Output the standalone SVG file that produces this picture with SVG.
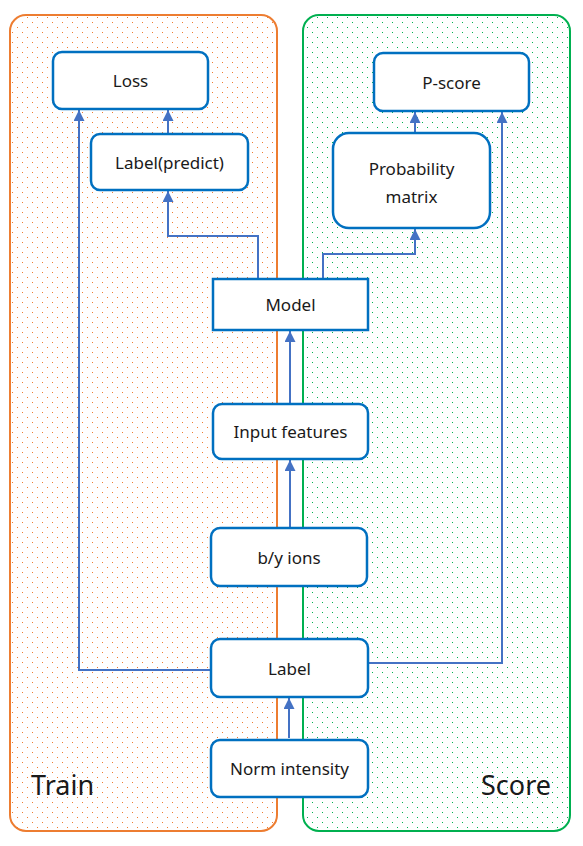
<svg xmlns="http://www.w3.org/2000/svg" width="583" height="846" viewBox="0 0 583 846">
<style>
.node{fill:#fff;stroke:#0070C0;stroke-width:2.5}
.t{font-family:"Noto Sans","Open Sans",sans-serif;font-size:17px;fill:#1a1a1a;text-anchor:middle;dominant-baseline:central}
.big{font-family:"Noto Sans","Open Sans",sans-serif;font-size:27px;fill:#1a1a1a}
.c{fill:none;stroke:#4472C4;stroke-width:2}
</style>
<defs>
<pattern id="po" width="10" height="10" patternUnits="userSpaceOnUse">
<rect x="2" y="2" width="1" height="1" fill="#ED7D31"/><rect x="7" y="7" width="1" height="1" fill="#ED7D31"/>
</pattern>
<pattern id="pg" width="10" height="10" patternUnits="userSpaceOnUse">
<rect x="2" y="2" width="1" height="1" fill="#00B050"/><rect x="7" y="7" width="1" height="1" fill="#00B050"/>
</pattern>
<marker id="ar" viewBox="0 0 10 10" refX="10" refY="5" markerWidth="5.5" markerHeight="5.5" orient="auto" markerUnits="strokeWidth">
<path d="M0,0 L10,5 L0,10 Z" fill="#4472C4"/>
</marker>
</defs>
<rect width="583" height="846" fill="#fff"/>
<g id="train">
<rect x="10" y="15" width="267" height="816" rx="16" fill="url(#po)" stroke="#ED7D31" stroke-width="2"/>
<text class="big" x="31" y="795">Train</text>
</g>
<g id="score">
<rect x="303" y="15" width="267" height="816" rx="16" fill="url(#pg)" stroke="#00B050" stroke-width="2"/>
<text class="big" x="551" y="795" text-anchor="end">Score</text>
</g>
<g id="connectors">
<path class="c" d="M289,738 V698" marker-end="url(#ar)"/>
<path class="c" d="M211,670 H79 V110" marker-end="url(#ar)"/>
<path class="c" d="M368,663 H502 V112" marker-end="url(#ar)"/>
<path class="c" d="M290,528 V460" marker-end="url(#ar)"/>
<path class="c" d="M290,404 V331" marker-end="url(#ar)"/>
<path class="c" d="M258,279 V236 H168 V191" marker-end="url(#ar)"/>
<path class="c" d="M323,279 V254 H415 V229" marker-end="url(#ar)"/>
<path class="c" d="M168,134 V110" marker-end="url(#ar)"/>
<path class="c" d="M415,133 V112" marker-end="url(#ar)"/>
</g>
<g id="loss"><rect class="node" x="53" y="52" width="155" height="57" rx="9"/><text class="t" x="130.5" y="80.5">Loss</text></g>
<g id="label-predict"><rect class="node" x="91" y="134" width="157" height="56" rx="9"/><text class="t" x="169.5" y="162">Label(predict)</text></g>
<g id="pscore"><rect class="node" x="374" y="53" width="155" height="58" rx="9"/><text class="t" x="451.5" y="82">P-score</text></g>
<g id="prob"><rect class="node" x="333" y="133" width="157" height="95" rx="16"/><text class="t" x="411.5" y="168">Probability</text><text class="t" x="411.5" y="196">matrix</text></g>
<g id="model"><rect class="node" x="213" y="279" width="155" height="51"/><text class="t" x="290.5" y="304.5">Model</text></g>
<g id="input"><rect class="node" x="213" y="404" width="155" height="55" rx="9"/><text class="t" x="290.5" y="431.5">Input features</text></g>
<g id="by"><rect class="node" x="211" y="528" width="156" height="58" rx="9"/><text class="t" x="289" y="557">b/y ions</text></g>
<g id="label"><rect class="node" x="211" y="639" width="157" height="58" rx="9"/><text class="t" x="289.5" y="668">Label</text></g>
<g id="norm"><rect class="node" x="211" y="740" width="157" height="57" rx="9"/><text class="t" x="289.5" y="768.5">Norm intensity</text></g>
</svg>
